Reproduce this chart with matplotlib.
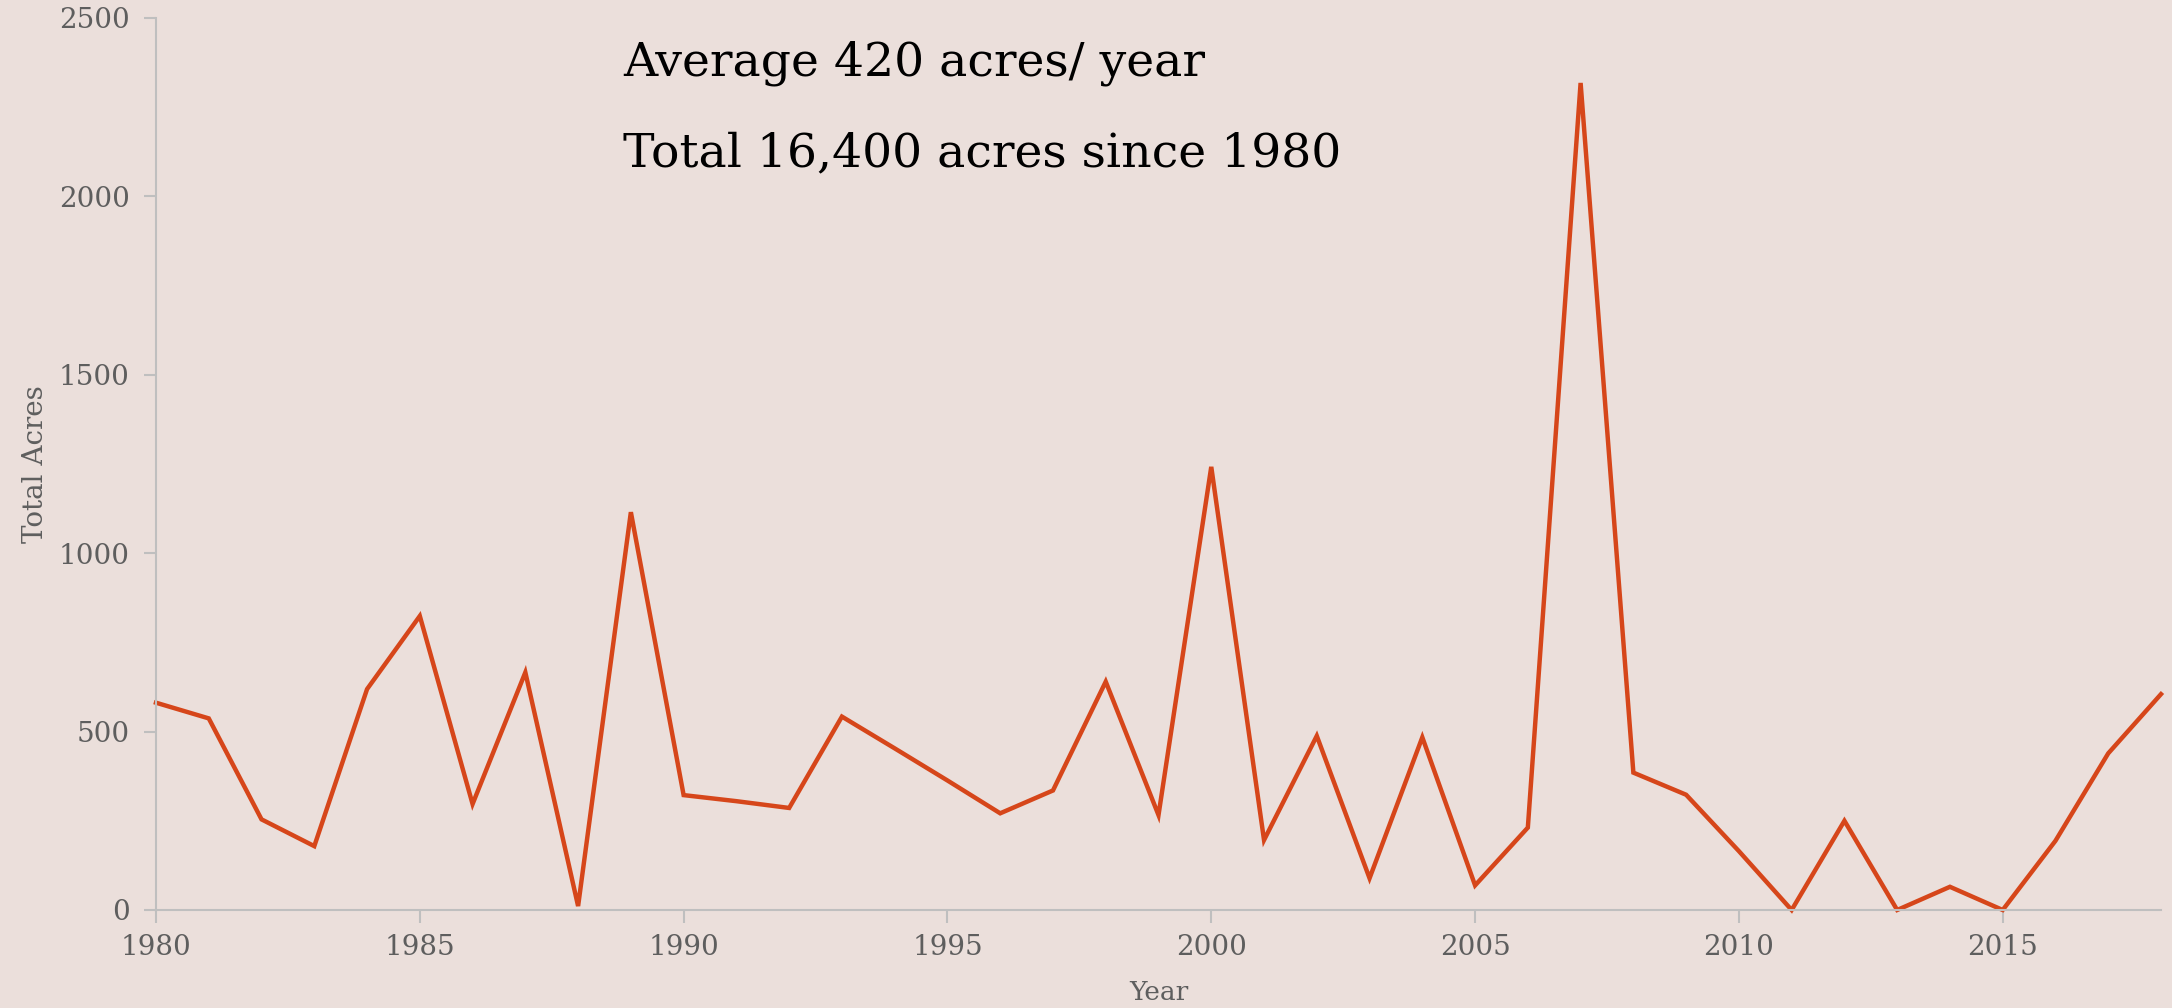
import matplotlib
matplotlib.use("Agg")
import matplotlib.pyplot as plt

years = list(range(1980, 2019))
acres = [581, 537, 254, 179, 619, 824, 297, 666, 11, 1115,
         322, 305, 286, 542, 453, 363, 271, 335, 640, 266,
         1242, 196, 488, 89, 484, 69, 231, 2318, 385, 323,
         165, 0, 250, 0, 65, 0, 194, 439, 605]
x_ticks = [1980, 1985, 1990, 1995, 2000, 2005, 2010, 2015]
y_ticks = [0, 500, 1000, 1500, 2000, 2500]
note_lines = ["Average 420 acres/ year", "Total 16,400 acres since 1980"]

bg = "#EBDFDB"
line_color = "#D6461A"
grey = "#5E5E5E"
axis_grey = "#BFBFBF"
font = "DejaVu Serif"

fig = plt.figure(figsize=(21.72, 10.08), dpi=100, facecolor=bg)
ax = fig.add_axes([156/2172, 98/1008, (2161-156)/2172, (910-18)/1008])
ax.set_facecolor(bg)

ax.plot(years, acres, color=line_color, lw=3.2, solid_joinstyle="miter", clip_on=False)

ax.set_xlim(1980, 2018)
ax.set_ylim(0, 2500)
ax.set_xticks(x_ticks)
ax.set_yticks(y_ticks)
for s in ["top", "right"]:
    ax.spines[s].set_visible(False)
for s in ["left", "bottom"]:
    ax.spines[s].set_color(axis_grey)
    ax.spines[s].set_linewidth(1.5)
ax.tick_params(axis="both", colors=axis_grey, length=9, width=1.5, labelcolor=grey,
               labelsize=20)
ax.tick_params(axis="x", pad=8)
ax.tick_params(axis="y", pad=10)
for lab in ax.get_xticklabels() + ax.get_yticklabels():
    lab.set_fontfamily(font)

ax.set_xlabel("Year", fontsize=19, color=grey, fontfamily=font, labelpad=14)
ax.set_ylabel("Total Acres", fontsize=20, color=grey, fontfamily=font,
              va="center", ha="center")
ax.yaxis.set_label_coords(-0.060, 0.5)

fig.text(623/2172, 1 - 76/1008, note_lines[0], fontsize=34, color="black",
         fontfamily=font, ha="left", va="baseline")
fig.text(623/2172, 1 - 166/1008, note_lines[1], fontsize=34, color="black",
         fontfamily=font, ha="left", va="baseline")

fig.savefig("out.png", dpi=100, facecolor=bg)
